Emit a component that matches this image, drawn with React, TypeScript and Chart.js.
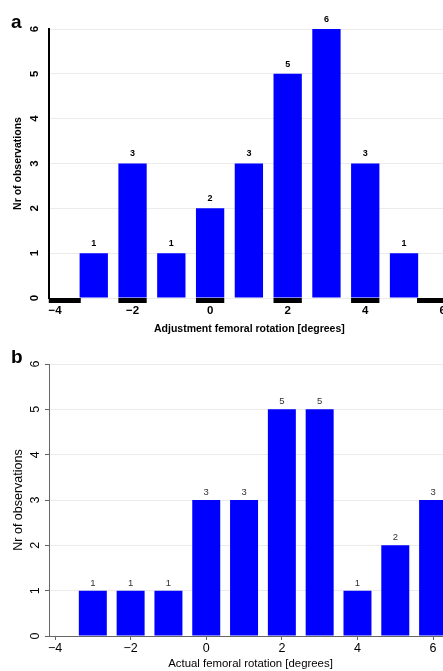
import React, { useEffect, useRef } from 'react';
import { Chart, registerables } from 'chart.js';

Chart.register(...registerables);

const FONT = "'Liberation Sans', Arial, Helvetica, sans-serif";

// ---------- data ----------
const yTitle = 'Nr of observations';

// panel a
const letterA = 'a';
const titleA = 'Adjustment femoral rotation [degrees]';
const binsA = [-3, -2, -1, 0, 1, 2, 3, 4, 5];
const countsA = [1, 3, 1, 2, 3, 5, 6, 3, 1];
const stripStartA = [-4.16, -2.365, -0.365, 1.635, 3.635, 5.335];
const stripEndA = [-3.335, -1.635, 0.365, 2.365, 4.365, 6.2];
const stripLevelA = -0.056;
const xMinA = -4.154;
const xMaxA = 6.18;

// panel b
const letterB = 'b';
const titleB = 'Actual femoral rotation [degrees]';
const binsB = [-3, -2, -1, 0, 1, 2, 3, 4, 5, 6];
const countsB = [1, 1, 1, 3, 3, 5, 5, 1, 2, 3];
const xMinB = -4.159;
const xMaxB = 6.5;

const yMin = 0;
const yMax = 6;
const yStep = 1;
const xStep = 2;

const fmt = (v: number | string) => String(v).replace('-', '\u2212');

const valueLabels = {
  id: 'valueLabels',
  afterDatasetsDraw(chart: any, _a: any, opts: any) {
    const meta = chart.getDatasetMeta(0);
    const ds = chart.data.datasets[0];
    const ctx = chart.ctx;
    ctx.save();
    ctx.font = opts.font;
    ctx.fillStyle = opts.color;
    ctx.textAlign = 'center';
    ctx.textBaseline = 'middle';
    meta.data.forEach((el: any, i: number) => {
      const v = ds.data[i].y;
      if (v > 0) ctx.fillText(String(v), el.x, el.y - opts.gap);
    });
    ctx.restore();
  },
};

const panelLetter = {
  id: 'panelLetter',
  afterDraw(chart: any, _a: any, opts: any) {
    const ctx = chart.ctx;
    ctx.save();
    ctx.font = `bold 19px ${FONT}`;
    ctx.fillStyle = '#000';
    ctx.textAlign = 'left';
    ctx.textBaseline = 'alphabetic';
    ctx.fillText(opts.text, 11, 28);
    ctx.restore();
  },
};

type PanelProps = {
  kind: 'a' | 'b';
  top: number;
  height: number;
};

function Panel({ kind, top, height }: PanelProps) {
  const ref = useRef<HTMLCanvasElement | null>(null);
  useEffect(() => {
    if (!ref.current) return;
    const isA = kind === 'a';
    const bins = isA ? binsA : binsB;
    const counts = isA ? countsA : countsB;
    const datasets: any[] = [
      {
        type: 'bar',
        data: bins.map((b, i) => ({ x: b, y: counts[i] })),
        backgroundColor: '#0000ff',
        borderWidth: 0,
        barPercentage: isA ? 0.73 : 0.74,
        categoryPercentage: 1,
      },
    ];
    if (isA) {
      const pts: any[] = [];
      stripStartA.forEach((s, i) => {
        pts.push({ x: s, y: stripLevelA });
        pts.push({ x: stripEndA[i], y: stripLevelA });
        pts.push({ x: stripEndA[i], y: null });
      });
      datasets.push({
        type: 'line',
        data: pts,
        borderColor: '#000',
        borderWidth: 5,
        borderCapStyle: 'butt',
        pointRadius: 0,
        spanGaps: false,
        tension: 0,
        clip: false,
      });
    }
    const tickFontX = isA
      ? { family: FONT, size: 11.5, weight: 'bold' as const }
      : { family: FONT, size: 12.5 };
    const tickFontY = isA
      ? { family: FONT, size: 11.5, weight: 'bold' as const }
      : { family: FONT, size: 12.5 };
    const chart = new Chart(ref.current, {
      type: 'bar',
      data: { datasets },
      plugins: [valueLabels, panelLetter],
      options: {
        responsive: false,
        animation: false,
        devicePixelRatio: 1,
        layout: { padding: { top: 29, left: 0, right: 0, bottom: 0 } },
        plugins: {
          legend: { display: false },
          tooltip: { enabled: false },
          valueLabels: isA
            ? { font: `bold 9px ${FONT}`, color: '#000', gap: 9.5 }
            : { font: `9.5px ${FONT}`, color: '#333', gap: 7.5 },
          panelLetter: { text: isA ? letterA : letterB },
        } as any,
        scales: {
          x: {
            type: 'linear',
            min: isA ? xMinA : xMinB,
            max: isA ? xMaxA : xMaxB,
            offset: false,
            ticks: {
              stepSize: xStep,
              includeBounds: false,
              autoSkip: false,
              maxRotation: 0,
              minRotation: 0,
              padding: isA ? 6 : 1,
              color: '#000',
              font: tickFontX,
              callback: (v: any) => fmt(v),
            },
            grid: isA
              ? { display: false, drawTicks: false, offset: false }
              : {
                  display: true,
                  offset: false,
                  drawOnChartArea: false,
                  drawTicks: true,
                  tickLength: 4,
                  tickColor: '#666',
                },
            border: isA ? { display: false } : { display: true, color: '#666', width: 1 },
            title: {
              display: true,
              text: isA ? titleA : titleB,
              color: '#000',
              font: isA ? { family: FONT, size: 10.5, weight: 'bold' } : { family: FONT, size: 11.4 },
              padding: { top: 0, bottom: 0 },
            },
            afterFit: (s: any) => {
              s.height = isA ? 37 : 35;
            },
          } as any,
          y: {
            type: 'linear',
            min: yMin,
            max: yMax,
            ticks: {
              stepSize: yStep,
              minRotation: 90,
              maxRotation: 90,
              crossAlign: 'center',
              padding: isA ? 10.5 : 6.2,
              color: '#000',
              font: tickFontY,
              callback: (v: any) => fmt(v),
            },
            grid: {
              color: '#ebebeb',
              lineWidth: 1,
              drawTicks: !isA,
              tickLength: 4,
              tickColor: '#666',
            },
            border: isA ? { display: true, color: '#000', width: 2 } : { display: true, color: '#666', width: 1 },
            title: {
              display: true,
              text: yTitle,
              color: '#000',
              font: isA ? { family: FONT, size: 10.5, weight: 'bold' } : { family: FONT, size: 12.5 },
              padding: isA ? { top: 12, bottom: 0 } : { top: 10.8, bottom: 0 },
            },
            afterFit: (s: any) => {
              s.width = 49;
            },
          } as any,
        },
      },
    } as any);
    return () => chart.destroy();
  }, [kind]);
  return (
    <canvas
      ref={ref}
      width={452}
      height={height}
      style={{ position: 'absolute', left: 0, top, width: 452, height, display: 'block' }}
    />
  );
}

export default function App() {
  return (
    <div
      style={{
        position: 'absolute',
        left: 0,
        top: 0,
        width: 443,
        height: 671,
        overflow: 'hidden',
        background: '#fff',
      }}
    >
      <Panel kind="a" top={0} height={335} />
      <Panel kind="b" top={335} height={336} />
    </div>
  );
}
